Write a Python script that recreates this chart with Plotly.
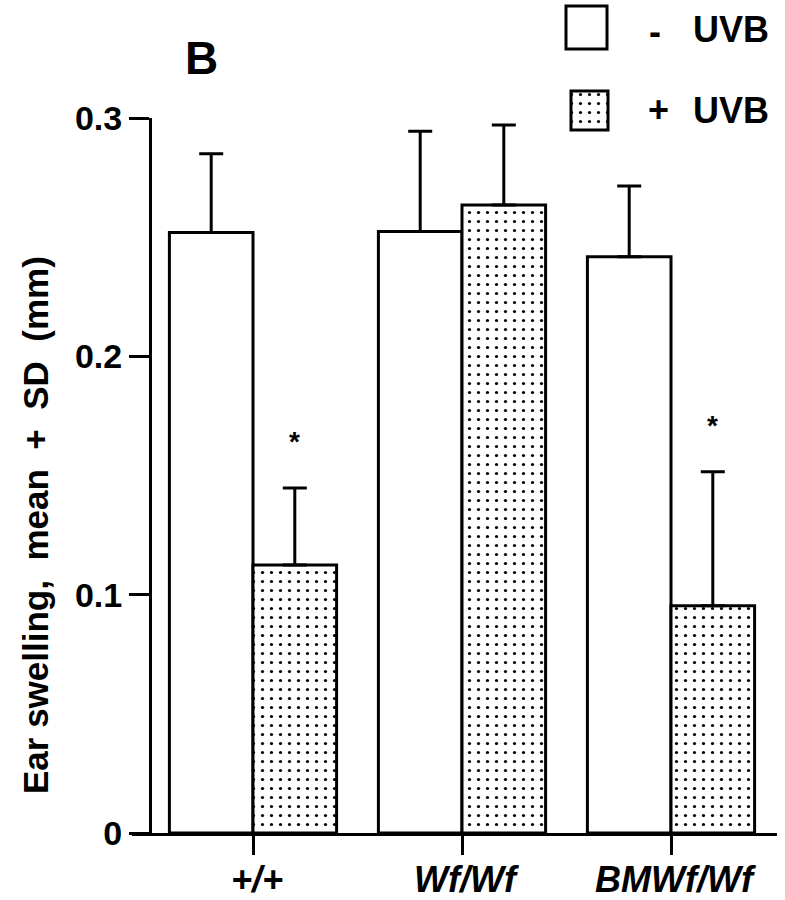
import plotly.graph_objects as go

# ---- data ----
genotypes = ["+/+", "Wf/Wf", "BMWf/Wf"]
minus_uvb_mean = [0.252, 0.2524, 0.2418]
minus_uvb_sd = [0.033, 0.042, 0.0297]
plus_uvb_mean = [0.1124, 0.2635, 0.0954]
plus_uvb_sd = [0.0324, 0.0336, 0.0562]
significance = ["*", "", "*"]
y_ticks = [0, 0.1, 0.2, 0.3]
y_tick_labels = ["0", "0.1", "0.2", "0.3"]

W, H = 785, 900
FONT = "Liberation Sans, Arial, Helvetica, sans-serif"
xpos = list(range(len(genotypes)))

dot_pattern = dict(shape=".", size=9, solidity=0.1, fgcolor="black", bgcolor="white", fillmode="replace")

fig = go.Figure()
fig.add_trace(go.Bar(
    x=xpos, y=minus_uvb_mean, name="- UVB",
    marker=dict(color="white", line=dict(color="black", width=3)),
    error_y=dict(type="data", symmetric=False, array=minus_uvb_sd,
                 arrayminus=[0] * len(minus_uvb_sd), color="black", thickness=3, width=12),
))
fig.add_trace(go.Bar(
    x=xpos, y=plus_uvb_mean, name="+ UVB",
    marker=dict(color="white", line=dict(color="black", width=3), pattern=dot_pattern),
    error_y=dict(type="data", symmetric=False, array=plus_uvb_sd,
                 arrayminus=[0] * len(plus_uvb_sd), color="black", thickness=3, width=12),
))

# legend boxes drawn on an overlay axis in pixel space
fig.add_trace(go.Bar(x=[586.5], y=[43], base=[6], width=[41], xaxis="x2", yaxis="y2",
                     marker=dict(color="white", line=dict(color="black", width=3)),
                     showlegend=False, hoverinfo="skip"))
fig.add_trace(go.Bar(x=[589.5], y=[39], base=[91], width=[37], xaxis="x2", yaxis="y2",
                     marker=dict(color="white", line=dict(color="black", width=3), pattern=dot_pattern),
                     showlegend=False, hoverinfo="skip"))

annotations = []
for i, s in enumerate(significance):
    if s:
        annotations.append(dict(
            x=i + 0.2, y=plus_uvb_mean[i] + plus_uvb_sd[i] + 0.022, xref="x", yref="y",
            text=s, showarrow=False, font=dict(family=FONT, size=28, color="black", weight="bold"),
            xanchor="center", yanchor="middle", yshift=-6))

# category labels below the axis
for i, g in enumerate(genotypes):
    annotations.append(dict(
        x=i, y=1 - 879 / H, xref="x", yref="paper", text=g, showarrow=False,
        xanchor="center", yanchor="middle", xshift=4,
        font=dict(family=FONT, size=36, color="black", weight="bold", style="italic")))

def ptxt(text, x, y, size, xanchor="center", angle=0):
    annotations.append(dict(text=text, x=x / W, y=1 - y / H, xref="paper", yref="paper",
                            showarrow=False, xanchor=xanchor, yanchor="middle", textangle=angle,
                            font=dict(family=FONT, size=size, color="black", weight="bold")))

ptxt("B", 201, 58, 46)
ptxt("-", 655, 31, 36)
ptxt("UVB", 691, 29, 36, xanchor="left")
ptxt("+", 658, 109, 36)
ptxt("UVB", 691, 111, 36, xanchor="left")
ptxt("Ear swelling,  mean  +  SD  (mm)", 35, 525, 35, angle=-90)

x0_px, x1_px = 132, 777
px_per_unit = 209
c0_px = 253

fig.update_layout(
    template="none",
    width=W, height=H,
    margin=dict(l=0, r=0, t=0, b=0),
    paper_bgcolor="white", plot_bgcolor="rgba(0,0,0,0)",
    showlegend=False,
    barmode="group", bargap=0.2, bargroupgap=0,
    annotations=annotations,
    xaxis=dict(
        domain=[x0_px / W, x1_px / W],
        range=[(x0_px - c0_px) / px_per_unit, (x1_px - c0_px) / px_per_unit],
        tickvals=xpos, showticklabels=False,
        ticks="outside", ticklen=19, tickwidth=3, tickcolor="black",
        showline=True, linecolor="black", linewidth=3,
        showgrid=False, zeroline=False, automargin=False,
    ),
    yaxis=dict(
        domain=[(H - 833) / H, (H - 118) / H],
        range=[0, 0.3],
        anchor="free", position=150 / W,
        tickvals=y_ticks, ticktext=y_tick_labels,
        ticks="outside", ticklen=20, tickwidth=3, tickcolor="black",
        showline=True, linecolor="black", linewidth=3,
        showgrid=False, zeroline=False, automargin=False,
        tickfont=dict(family=FONT, size=34, color="black", weight="bold"),
    ),
    xaxis2=dict(domain=[0, 1], range=[0, W], visible=False, anchor="y2", fixedrange=True),
    yaxis2=dict(domain=[0, 1], range=[H, 0], visible=False, anchor="x2", fixedrange=True),
)

fig.write_html("out.html", config={"displayModeBar": False},
               post_script="document.body.style.margin='0px';document.body.style.overflow='hidden';")
